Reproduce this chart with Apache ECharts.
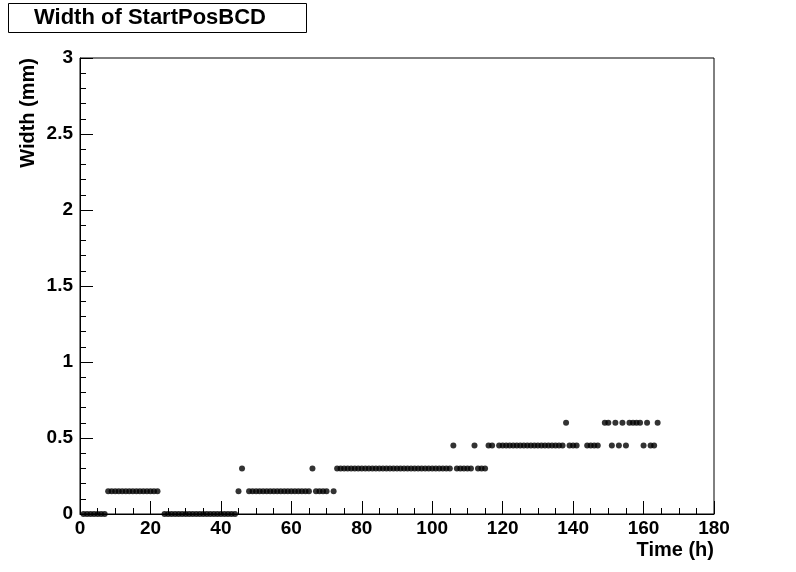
<!DOCTYPE html>
<html>
<head>
<meta charset="utf-8">
<script src="https://cdn.jsdelivr.net/npm/echarts@6/dist/echarts.min.js"></script>
<style>html,body{margin:0;padding:0;background:#fff}#c{width:796px;height:572px}</style>
</head>
<body>
<div id="c"></div>
<script>
const titleText = 'Width of StartPosBCD';
const xTitle = 'Time (h)';
const yTitle = 'Width (mm)';
const xTicks = [0, 20, 40, 60, 80, 100, 120, 140, 160, 180];
const yTicks = [0, 0.5, 1, 1.5, 2, 2.5, 3];

const hours = [
  1,2,3,4,5,6,7,
  8,9,10,11,12,13,14,15,16,17,18,19,20,21,22,
  24,25,26,27,28,29,30,31,32,33,34,35,36,37,38,39,40,41,42,43,44,
  45,46,
  48,49,50,51,52,53,54,55,56,57,58,59,60,61,62,63,64,65,
  66,67,68,69,70,72,
  73,74,75,76,77,78,79,80,81,82,83,84,85,86,87,88,89,90,91,92,93,94,95,96,97,98,99,100,101,102,103,104,105,
  106,107,108,109,110,111,112,113,114,115,116,117,
  119,120,121,122,123,124,125,126,127,128,129,130,131,132,133,134,135,136,137,
  138,139,140,141,144,145,146,147,
  149,150,151,152,153,154,155,156,157,158,159,160,161,162,163,164
];
const widths = [
  0,0,0,0,0,0,0,
  0.15,0.15,0.15,0.15,0.15,0.15,0.15,0.15,0.15,0.15,0.15,0.15,0.15,0.15,0.15,
  0,0,0,0,0,0,0,0,0,0,0,0,0,0,0,0,0,0,0,0,0,
  0.15,0.3,
  0.15,0.15,0.15,0.15,0.15,0.15,0.15,0.15,0.15,0.15,0.15,0.15,0.15,0.15,0.15,0.15,0.15,0.15,
  0.3,0.15,0.15,0.15,0.15,0.15,
  0.3,0.3,0.3,0.3,0.3,0.3,0.3,0.3,0.3,0.3,0.3,0.3,0.3,0.3,0.3,0.3,0.3,0.3,0.3,0.3,0.3,0.3,0.3,0.3,0.3,0.3,0.3,0.3,0.3,0.3,0.3,0.3,0.3,
  0.45,0.3,0.3,0.3,0.3,0.3,0.45,0.3,0.3,0.3,0.45,0.45,
  0.45,0.45,0.45,0.45,0.45,0.45,0.45,0.45,0.45,0.45,0.45,0.45,0.45,0.45,0.45,0.45,0.45,0.45,0.45,
  0.6,0.45,0.45,0.45,0.45,0.45,0.45,0.45,
  0.6,0.6,0.45,0.6,0.45,0.6,0.45,0.6,0.6,0.6,0.6,0.45,0.6,0.45,0.45,0.6
];

const data = hours.map((h, i) => [h, widths[i]]);
const font = '"Liberation Sans", Arial, sans-serif';

const chart = echarts.init(document.getElementById('c'));
chart.setOption({
  animation: false,
  backgroundColor: '#fff',
  grid: { left: 80, right: 82, top: 58, bottom: 58, show: true, borderColor: '#000', borderWidth: 1, backgroundColor: 'transparent' },
  xAxis: {
    type: 'value', min: xTicks[0], max: xTicks[xTicks.length - 1], interval: 20,
    axisLine: { show: true, lineStyle: { color: '#000', width: 1 } },
    axisTick: { show: true, inside: true, length: 13, lineStyle: { color: '#000' } },
    minorTick: { show: true, splitNumber: 4, length: 6, lineStyle: { color: '#000' } },
    splitLine: { show: false },
    axisLabel: { color: '#000', fontFamily: font, fontWeight: 'bold', fontSize: 19, margin: 5 }
  },
  yAxis: {
    type: 'value', min: yTicks[0], max: yTicks[yTicks.length - 1], interval: 0.5,
    axisLine: { show: true, lineStyle: { color: '#000', width: 1 } },
    axisTick: { show: true, inside: true, length: 13, lineStyle: { color: '#000' } },
    minorTick: { show: true, splitNumber: 5, length: 6, lineStyle: { color: '#000' } },
    splitLine: { show: false },
    axisLabel: { color: '#000', fontFamily: font, fontWeight: 'bold', fontSize: 19, margin: 7 }
  },
  series: [{
    type: 'scatter', data: data, symbol: 'circle', symbolSize: 6,
    itemStyle: { color: '#000' }
  }],
  graphic: [
    { type: 'rect', left: 8, top: 3, shape: { width: 298, height: 29 }, style: { fill: '#fff', stroke: '#000', lineWidth: 1 } },
    { type: 'text', x: 34, y: 18, style: { text: titleText, font: 'bold 22px ' + font, fill: '#000', verticalAlign: 'middle' } },
    { type: 'text', x: 714, y: 550, style: { text: xTitle, font: 'bold 20px ' + font, fill: '#000', align: 'right', verticalAlign: 'middle' } },
    { type: 'text', x: 28, y: 58, rotation: Math.PI / 2, style: { text: yTitle, font: 'bold 20px ' + font, fill: '#000', align: 'right', verticalAlign: 'middle' } }
  ]
});
</script>
</body>
</html>
